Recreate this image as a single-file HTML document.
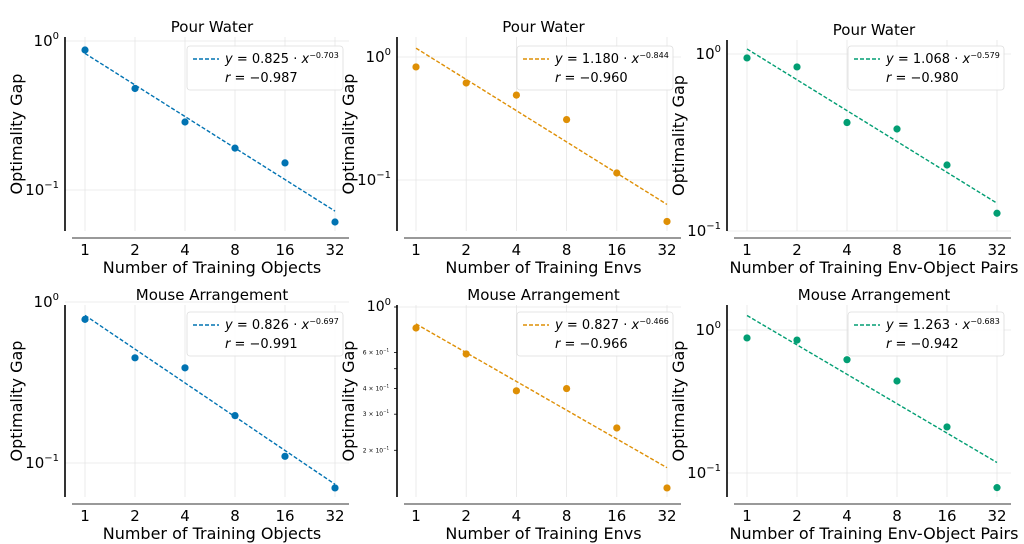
<!DOCTYPE html>
<html><head><meta charset="utf-8"><style>
body{margin:0;background:#fff;}
svg{display:block;font-family:"DejaVu Sans","Liberation Sans",sans-serif;}
</style></head><body>
<svg id="chart" width="1024" height="544" viewBox="0 0 1024 544" xmlns="http://www.w3.org/2000/svg"></svg>
<script>
const xCategories=[1,2,4,8,16,32];
const seriesP1=[0.87,0.48,0.286,0.191,0.152,0.061];
const seriesP2=[0.83,0.615,0.49,0.31,0.114,0.046];
const seriesP3=[0.95,0.845,0.41,0.377,0.236,0.126];
const seriesP4=[0.78,0.45,0.39,0.197,0.11,0.07];
const seriesP5=[0.79,0.59,0.39,0.40,0.257,0.131];
const seriesP6=[0.88,0.85,0.62,0.44,0.21,0.079];
const fitA=[0.825,1.180,1.068,0.826,0.827,1.263];
const fitB=[-0.703,-0.844,-0.579,-0.697,-0.466,-0.683];
const fitR=["−0.987","−0.960","−0.980","−0.991","−0.966","−0.942"];
const titles=["Pour Water","Pour Water","Pour Water","Mouse Arrangement","Mouse Arrangement","Mouse Arrangement"];
const xLabels=["Number of Training Objects","Number of Training Envs","Number of Training Env-Object Pairs","Number of Training Objects","Number of Training Envs","Number of Training Env-Object Pairs"];
const allSeries=[seriesP1,seriesP2,seriesP3,seriesP4,seriesP5,seriesP6];
const colors=["#0173b2","#de8f05","#029e73","#0173b2","#de8f05","#029e73"];
const layouts=[
 {ax:65,x1:85,x32:335,y0:41,dec:149,yt:37,yb:231,xa:238,lx:187,ly:46},
 {ax:397,x1:416,x32:667,y0:57,dec:123,yt:37,yb:231,xa:238,lx:517,ly:46},
 {ax:727,x1:747,x32:997,y0:54,dec:177,yt:40,yb:231,xa:238,lx:848,ly:46},
 {ax:65,x1:85,x32:335,y0:302,dec:161,yt:305,yb:497,xa:504,lx:187,ly:312},
 {ax:397,x1:416,x32:667,y0:307,dec:205,yt:305,yb:497,xa:504,lx:517,ly:312},
 {ax:727,x1:747,x32:997,y0:330,dec:143,yt:305,yb:497,xa:504,lx:848,ly:312}
];
const NS="http://www.w3.org/2000/svg";
const svg=document.getElementById('chart');
function mk(tag,attrs,parent,text){const e=document.createElementNS(NS,tag);for(const k in attrs)e.setAttribute(k,attrs[k]);if(text!==undefined)e.textContent=text;(parent||svg).appendChild(e);return e;}
layouts.forEach((L,i)=>{
  const g=mk('g',{});
  
  
  const xs=v=>L.x1+Math.log2(v)/5*(L.x32-L.x1);
  const ys=v=>L.y0-Math.log10(v)*L.dec;
  const xr=L.x32+14;
  xCategories.forEach(c=>{const l=mk('line',{x1:xs(c),x2:xs(c),y1:L.yt,y2:L.yb,stroke:'#e6e6e6','stroke-width':0.8},g);
    });
  [1,0.1].forEach(v=>{const y=ys(v);if(y>=L.yt-6&&y<=L.yb+1){const l=mk('line',{x1:L.ax,x2:xr,y1:y,y2:y,stroke:'#e6e6e6','stroke-width':0.8},g);
    }});
  const ya=mk('line',{x1:L.ax,x2:L.ax,y1:L.yt,y2:L.yb,stroke:'#000','stroke-width':1.6},g);
  
  const xa=mk('line',{x1:L.ax+7,x2:xr,y1:L.xa,y2:L.xa,stroke:'#333','stroke-width':1},g);
  
  if(i===4){
    const minor=[[1,'10',true],[0.6,'6 × 10',false],[0.4,'4 × 10',false],[0.3,'3 × 10',false],[0.2,'2 × 10',false]];
    minor.forEach(m=>{const y=ys(m[0]);
      if(m[2]){const t=mk('text',{x:L.ax-6,y:y+4,'font-size':14,'text-anchor':'end'},g);t.innerHTML='10<tspan dy="-6" font-size="10">0</tspan>';}
      else{const t=mk('text',{x:L.ax-8,y:y+2,'font-size':6,'text-anchor':'end'},g);t.innerHTML=m[1]+'<tspan dy="-3" font-size="4">−1</tspan>';}
      mk('line',{x1:L.ax-3,x2:L.ax,y1:y,y2:y,stroke:'#000','stroke-width':0.8},g);});
    [0.5].forEach(v=>mk('line',{x1:L.ax-3,x2:L.ax,y1:ys(v),y2:ys(v),stroke:'#000','stroke-width':0.8},g));
  } else {
    [[1,'0'],[0.1,'−1']].forEach(m=>{const y=ys(m[0]);
      const t=mk('text',{x:L.ax-6,y:y+5,'font-size':15,'text-anchor':'end'},g);t.innerHTML='10<tspan dy="-7" font-size="10">'+m[1]+'</tspan>';
      });
  }
  xCategories.forEach(c=>{const t=mk('text',{x:xs(c),y:L.xa+17,'font-size':15,'text-anchor':'middle'},g,String(c));
    });
  const xl=mk('text',{x:(L.x1+L.x32)/2+2,y:L.xa+35,'font-size':16,'text-anchor':'middle'},g,xLabels[i]);
  
  const yl=mk('text',{x:0,y:0,'font-size':16,'text-anchor':'middle',transform:`translate(${L.ax-43},${(L.yt+L.yb)/2}) rotate(-90)`},g,'Optimality Gap');
  
  const tt=mk('text',{x:(L.x1+L.x32)/2+2,y:L.yt-5,'font-size':15,'text-anchor':'middle'},g,titles[i]);
  
  let d='';xCategories.forEach((c,k)=>{d+=(k?'L':'M')+xs(c)+','+ys(fitA[i]*Math.pow(c,fitB[i]));});
  const fl=mk('path',{d:d,fill:'none',stroke:colors[i],'stroke-width':1.4,'stroke-dasharray':'4,2'},g);
  
  allSeries[i].forEach((v,k)=>{const c=mk('circle',{cx:xs(xCategories[k]),cy:ys(v),r:3.6,fill:colors[i]},g);
    });
  const lg=mk('g',{},g);
  
  mk('rect',{x:L.lx,y:L.ly,width:156,height:44,rx:3,fill:'#fff','fill-opacity':0.85,stroke:'#ddd','stroke-width':0.8},lg);
  mk('line',{x1:L.lx+6,x2:L.lx+32,y1:L.ly+13,y2:L.ly+13,stroke:colors[i],'stroke-width':1.5,'stroke-dasharray':'4,2'},lg);
  const e1=mk('text',{x:L.lx+38,y:L.ly+17,'font-size':13},lg);
  e1.innerHTML='<tspan font-style="italic">y</tspan> = '+fitA[i].toFixed(3)+' · <tspan font-style="italic">x</tspan><tspan dy="-5" font-size="8">'+fitB[i].toFixed(3).replace('-','−')+'</tspan>';
  
  const e2=mk('text',{x:L.lx+38,y:L.ly+36,'font-size':13},lg);
  e2.innerHTML='<tspan font-style="italic">r</tspan> =  '+fitR[i];
  
});
</script>
</body></html>
